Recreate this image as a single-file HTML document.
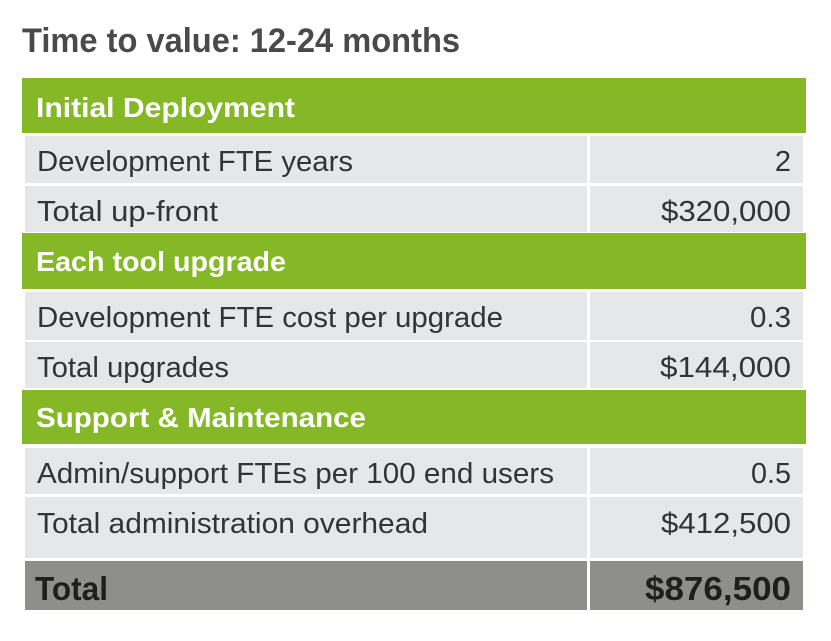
<!DOCTYPE html>
<html><head><meta charset="utf-8"><style>
html,body{margin:0;padding:0;background:#fff;}
svg{display:block;}
</style></head><body>
<svg width="831" height="641" viewBox="0 0 831 641" xmlns="http://www.w3.org/2000/svg" font-family="'Liberation Sans', sans-serif">
<rect width="831" height="641" fill="#fff"/>
<text x="22" y="52" font-size="34" font-weight="bold" fill="#4a4a4a" textLength="438" lengthAdjust="spacingAndGlyphs">Time to value: 12-24 months</text>

<!-- headers -->
<rect x="22" y="78" width="784" height="55" fill="#84b826"/>
<rect x="22" y="233" width="784" height="56" fill="#84b826"/>
<rect x="22" y="390" width="784" height="54" fill="#84b826"/>

<!-- gray rows -->
<g fill="#e6e7e8">
<rect x="25" y="136" width="562" height="47"/><rect x="590" y="136" width="213" height="47"/>
<rect x="25" y="186" width="562" height="46"/><rect x="590" y="186" width="213" height="46"/>
<rect x="25" y="292" width="562" height="48"/><rect x="590" y="292" width="213" height="48"/>
<rect x="25" y="342" width="562" height="46"/><rect x="590" y="342" width="213" height="46"/>
<rect x="25" y="448" width="562" height="46"/><rect x="590" y="448" width="213" height="46"/>
<rect x="25" y="497" width="562" height="61"/><rect x="590" y="497" width="213" height="61"/>
</g>
<g fill="#8e8f8a">
<rect x="25" y="561" width="562" height="49"/><rect x="590" y="561" width="213" height="49"/>
</g>

<!-- header text -->
<g font-weight="bold" fill="#ffffff" font-size="28">
<text x="36" y="117" textLength="259" lengthAdjust="spacingAndGlyphs">Initial Deployment</text>
<text x="36" y="271" textLength="250" lengthAdjust="spacingAndGlyphs">Each tool upgrade</text>
<text x="36" y="427" textLength="330" lengthAdjust="spacingAndGlyphs">Support &amp; Maintenance</text>
</g>

<!-- data text -->
<g fill="#333338" font-size="29">
<text x="37" y="171" textLength="316" lengthAdjust="spacingAndGlyphs">Development FTE years</text>
<text x="37" y="221" textLength="181" lengthAdjust="spacingAndGlyphs">Total up-front</text>
<text x="37" y="327" textLength="466" lengthAdjust="spacingAndGlyphs">Development FTE cost per upgrade</text>
<text x="37" y="377" textLength="192" lengthAdjust="spacingAndGlyphs">Total upgrades</text>
<text x="37" y="483" textLength="517" lengthAdjust="spacingAndGlyphs">Admin/support FTEs per 100 end users</text>
<text x="37" y="533" textLength="391" lengthAdjust="spacingAndGlyphs">Total administration overhead</text>

<text x="791" y="171" text-anchor="end">2</text>
<text x="791" y="221" text-anchor="end" textLength="130" lengthAdjust="spacingAndGlyphs">$320,000</text>
<text x="791" y="327" text-anchor="end" textLength="41" lengthAdjust="spacingAndGlyphs">0.3</text>
<text x="791" y="377" text-anchor="end" textLength="131" lengthAdjust="spacingAndGlyphs">$144,000</text>
<text x="791" y="483" text-anchor="end" textLength="40" lengthAdjust="spacingAndGlyphs">0.5</text>
<text x="791" y="533" text-anchor="end" textLength="130" lengthAdjust="spacingAndGlyphs">$412,500</text>
</g>

<!-- total -->
<g fill="#1e1e1e" font-weight="bold" font-size="33">
<text x="35" y="600" textLength="73" lengthAdjust="spacingAndGlyphs">Total</text>
<text x="791" y="600" text-anchor="end" textLength="146" lengthAdjust="spacingAndGlyphs">$876,500</text>
</g>
</svg>
</body></html>
